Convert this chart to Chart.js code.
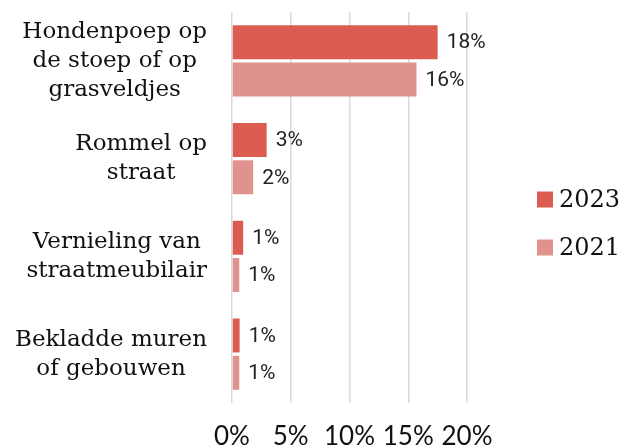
<!DOCTYPE html>
<html>
<head>
<meta charset="utf-8">
<script src="https://cdn.jsdelivr.net/npm/chart.js@4/dist/chart.umd.min.js"></script>
<style>
  html, body { margin: 0; padding: 0; background: #fff; overflow: hidden; }
  #wrap { width: 637px; height: 446px; }
  canvas { display: block; }
</style>
</head>
<body>
<div id="wrap"><canvas id="myChart"></canvas></div>
<script>
const categories = [
    ['Hondenpoep op', 'de stoep of op', 'grasveldjes'],
    ['Rommel op', 'straat'],
    ['Vernieling van', 'straatmeubilair'],
    ['Bekladde muren', 'of gebouwen']
];
const values2023 = [17.5, 2.95, 0.95, 0.65];
const values2021 = [15.7, 1.8, 0.62, 0.62];
const seriesNames = ['2023', '2021'];
const xTicks = [0, 5, 10, 15, 20];

const labelFont = '23px "DejaVu Serif"';

// category labels: lines centred inside a block that is right aligned to the axis
const categoryLabels = {
    id: 'categoryLabels',
    afterDraw(chart) {
        const ctx = chart.ctx;
        const yScale = chart.scales.y;
        ctx.save();
        ctx.font = labelFont;
        ctx.fillStyle = '#111';
        ctx.textAlign = 'center';
        ctx.textBaseline = 'middle';
        const lineH = 29;
        categories.forEach((lines, i) => {
            const widest = Math.max(...lines.map(l => ctx.measureText(l).width));
            const cx = yScale.right - 25 - widest / 2;
            const cy = yScale.getPixelForTick(i);
            const top = cy - (lines.length - 1) * lineH / 2;
            lines.forEach((l, j) => ctx.fillText(l, cx, top + j * lineH));
        });
        ctx.restore();
    }
};

const valueLabels = {
    id: 'valueLabels',
    afterDatasetsDraw(chart) {
        const ctx = chart.ctx;
        ctx.save();
        ctx.font = '21px Roboto';
        ctx.fillStyle = '#222';
        ctx.textAlign = 'left';
        ctx.textBaseline = 'middle';
        chart.data.datasets.forEach((ds, d) => {
            chart.getDatasetMeta(d).data.forEach((bar, i) => {
                ctx.fillText(Math.round(ds.data[i]) + '%', bar.x + 9, bar.y + 1);
            });
        });
        ctx.restore();
    }
};

// legend to the right of the plot, built from the datasets
const sideLegend = {
    id: 'sideLegend',
    afterDraw(chart) {
        const ctx = chart.ctx;
        const area = chart.chartArea;
        const x = area.right + 70;
        const midY = (area.top + area.bottom) / 2;
        const gap = 48;
        ctx.save();
        ctx.font = '24px "DejaVu Serif"';
        ctx.textAlign = 'left';
        ctx.textBaseline = 'middle';
        chart.data.datasets.forEach((ds, i) => {
            const y = midY - 8 + i * gap;
            ctx.fillStyle = ds.backgroundColor;
            ctx.fillRect(x, y - 8, 16, 16);
            ctx.fillStyle = '#111';
            ctx.fillText(ds.label, x + 22, y + 1);
        });
        ctx.restore();
    }
};

new Chart(document.getElementById('myChart'), {
    type: 'bar',
    data: {
        labels: categories.map(c => c.join(' ')),
        datasets: [{
            label: seriesNames[0],
            data: values2023,
            backgroundColor: '#dc5c52'
        }, {
            label: seriesNames[1],
            data: values2021,
            backgroundColor: '#df928e'
        }]
    },
    options: {
        indexAxis: 'y',
        responsive: true,
        maintainAspectRatio: false,
        animation: false,
        categoryPercentage: 0.763,
        barPercentage: 0.91,
        layout: { padding: { top: 12, right: 170, bottom: 0, left: 0 } },
        scales: {
            x: {
                min: 0,
                max: 20,
                afterBuildTicks: s => { s.ticks = xTicks.map(v => ({ value: v })); },
                afterFit: s => { s.height = 43; },
                grid: { color: '#d9d9d9', lineWidth: 1.5, drawTicks: false },
                border: { display: false },
                ticks: {
                    padding: 18,
                    maxRotation: 0,
                    autoSkip: false,
                    color: '#111',
                    font: { family: 'Lato', size: 26 },
                    callback: v => v + '%'
                }
            },
            y: {
                afterFit: s => { s.width = 232; },
                grid: { display: false },
                border: { display: false },
                ticks: { display: false }
            }
        },
        plugins: {
            legend: { display: false },
            tooltip: { enabled: false }
        }
    },
    plugins: [categoryLabels, valueLabels, sideLegend]
});
</script>
</body>
</html>
